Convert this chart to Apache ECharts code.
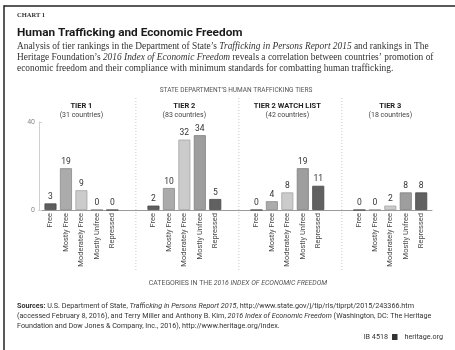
<!DOCTYPE html>
<html>
<head>
<meta charset="utf-8">
<script src="https://cdn.jsdelivr.net/npm/echarts@6/dist/echarts.min.js"></script>
<style>
html,body{margin:0;padding:0;background:#fff;}
#chart{width:455px;height:350px;}
</style>
</head>
<body>
<div id="chart"></div>
<script>
// ---- data ----
var categories = ['Free', 'Mostly Free', 'Moderately Free', 'Mostly Unfree', 'Repressed'];
var tierNames = ['TIER 1', 'TIER 2', 'TIER 2 WATCH LIST', 'TIER 3'];
var tierCounts = ['(31 countries)', '(83 countries)', '(42 countries)', '(18 countries)'];
var tier1 = [3, 19, 9, 0, 0];
var tier2 = [2, 10, 32, 34, 5];
var tier2Watch = [0, 4, 8, 19, 11];
var tier3 = [0, 0, 2, 8, 8];
var yTicks = [0, 40];

// ---- layout / style ----
var tierValues = [tier1, tier2, tier2Watch, tier3];
var fillColors = ['#5e5e5e', '#ababab', '#cbcbcb', '#9e9e9e', '#616161'];
var borderColors = ['#4a4a4a', '#8a8a8a', '#a5a5a5', '#7e7e7e', '#4a4a4a'];
var plotTop = 122, plotBottomY = 210;
var panelStep = 102.97, firstCenter = 81.4, catW = 15.45;
var sans = 'Roboto, "Liberation Sans", sans-serif';
var serif = '"Liberation Serif", "DejaVu Serif", serif';

var grids = [], xAxes = [], yAxes = [], series = [], graphics = [];

// background grid for shared axes
grids.push({left: 39, width: 393, top: plotTop, height: plotBottomY - plotTop});
xAxes.push({type: 'value', gridIndex: 0, min: 0, max: 1, axisLine: {show: true, lineStyle: {color: '#9a9a9a', width: 1}}, axisTick: {show: false}, axisLabel: {show: false}, splitLine: {show: false}});
yAxes.push({type: 'value', gridIndex: 0, min: yTicks[0], max: yTicks[1], interval: yTicks[1] - yTicks[0],
  axisLine: {show: true, lineStyle: {color: '#cfcfcf'}}, axisTick: {show: true, inside: true, length: 3, lineStyle: {color: '#cfcfcf'}},
  axisLabel: {fontSize: 7, color: '#888', fontFamily: sans, margin: 4}, splitLine: {show: false}});

for (var t = 0; t < tierValues.length; t++) {
  var c = firstCenter + t * panelStep;
  var gi = t + 1;
  grids.push({left: c - catW * 2.5, width: catW * 5, top: plotTop, height: plotBottomY - plotTop});
  xAxes.push({type: 'category', gridIndex: gi, data: categories, axisLine: {show: false}, axisTick: {show: false},
    axisLabel: {rotate: 90, interval: 0, margin: 3, fontSize: 7.5, color: '#4a4a4a', fontFamily: sans}});
  yAxes.push({type: 'value', gridIndex: gi, min: yTicks[0], max: yTicks[1], show: false});
  series.push({
    type: 'bar', xAxisIndex: gi, yAxisIndex: gi, barWidth: 12,
    data: tierValues[t].map(function (v, i) {
      return {value: v, itemStyle: {color: fillColors[i], borderColor: borderColors[i], borderWidth: 0.8}};
    }),
    label: {show: true, position: 'top', distance: 2, fontSize: 8.5, color: '#333', fontFamily: sans},
    silent: true, animation: false
  });
  graphics.push({type: 'text', style: {text: tierNames[t], x: c, y: 106, align: 'center', verticalAlign: 'middle', fontSize: 7.5, fontWeight: 'bold', fontFamily: sans, fill: '#222'}});
  graphics.push({type: 'text', style: {text: tierCounts[t], x: c, y: 115, align: 'center', verticalAlign: 'middle', fontSize: 7, fontFamily: sans, fill: '#444'}});
  if (t > 0) {
    var sx = c - panelStep / 2 + 3;
    graphics.push({type: 'line', shape: {x1: sx, y1: 98, x2: sx, y2: 272}, style: {stroke: '#bbb', lineWidth: 0.8, lineDash: [1, 2]}});
  }
}

// frame
graphics.push({type: 'line', shape: {x1: 4, y1: 6, x2: 455, y2: 6}, style: {stroke: '#222', lineWidth: 1.5}});
graphics.push({type: 'line', shape: {x1: 4, y1: 5.25, x2: 4, y2: 350}, style: {stroke: '#222', lineWidth: 1.5}});

function txt(text, x, y, opts) {
  var s = {text: text, x: x, y: y, align: opts.align || 'left', verticalAlign: 'middle',
    fontSize: opts.size, fontFamily: opts.family, fontWeight: opts.weight || 'normal', fill: opts.fill || '#222'};
  if (opts.rich) s.rich = opts.rich;
  graphics.push({type: 'text', style: s});
}
function italicRich(size, family, fill) {
  return {i: {fontStyle: 'italic', fontSize: size, fontFamily: family, fill: fill}, b: {fontWeight: 'bold', fontSize: size, fontFamily: family, fill: fill}};
}

txt('CHART 1', 17, 15, {size: 6.5, family: serif, weight: 'bold', fill: '#333'});
txt('Human Trafficking and Economic Freedom', 17, 33, {size: 11.8, family: sans, weight: 'bold', fill: '#1a1a1a'});
var subR = italicRich(9.4, serif, '#333');
txt("Analysis of tier rankings in the Department of State\u2019s {i|Trafficking in Persons Report 2015} and rankings in The", 17, 47, {size: 9.4, family: serif, fill: '#333', rich: subR});
txt("Heritage Foundation\u2019s {i|2016 Index of Economic Freedom} reveals a correlation between countries\u2019 promotion of", 17, 58, {size: 9.4, family: serif, fill: '#333', rich: subR});
txt("economic freedom and their compliance with minimum standards for combatting human trafficking.", 17, 69, {size: 9.4, family: serif, fill: '#333', rich: subR});

txt("STATE DEPARTMENT\u2019S HUMAN TRAFFICKING TIERS", 236, 90, {size: 6.5, family: sans, fill: '#555', align: 'center'});
txt("CATEGORIES IN THE {i|2016 INDEX OF ECONOMIC FREEDOM}", 238, 283, {size: 6.9, family: sans, fill: '#555', align: 'center', rich: italicRich(6.9, sans, '#555')});

var srcR = italicRich(7.2, sans, '#333');
txt("{b|Sources:} U.S. Department of State, {i|Trafficking in Persons Report 2015}, http://www.state.gov/j/tip/rls/tiprpt/2015/243366.htm", 17, 306, {size: 7.2, family: sans, fill: '#333', rich: srcR});
txt("(accessed February 8, 2016), and Terry Miller and Anthony B. Kim, {i|2016 Index of Economic Freedom} (Washington, DC: The Heritage", 17, 316, {size: 7.2, family: sans, fill: '#333', rich: srcR});
txt("Foundation and Dow Jones & Company, Inc., 2016), http://www.heritage.org/index.", 17, 326, {size: 7.2, family: sans, fill: '#333', rich: srcR});

txt("heritage.org", 443, 337, {size: 7.2, family: sans, fill: '#333', align: 'right'});
txt("IB 4518", 388, 337, {size: 7.2, family: sans, fill: '#333', align: 'right'});
graphics.push({type: 'rect', shape: {x: 392, y: 334, width: 5.5, height: 6}, style: {fill: '#333'}});

var chart = echarts.init(document.getElementById('chart'), null, {renderer: 'canvas'});
chart.setOption({
  animation: false,
  grid: grids, xAxis: xAxes, yAxis: yAxes, series: series, graphic: graphics
});
</script>
</body>
</html>
